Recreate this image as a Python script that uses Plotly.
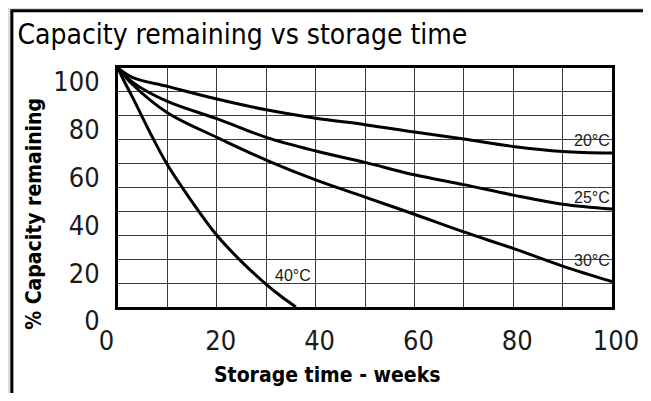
import plotly.graph_objects as go

# ---- data ----
weeks_20 = [0, 3, 10, 20, 30, 40, 50, 60, 70, 80, 90, 100]
cap_20 = [100, 96, 92.3, 87, 82.5, 79, 76.3, 73.2, 70.3, 67.2, 65.1, 64.4]

weeks_25 = [0, 3, 10, 20, 30, 40, 50, 60, 70, 80, 90, 100]
cap_25 = [100, 94, 86, 78.8, 71, 65.3, 60.5, 55.3, 51.2, 46.8, 43, 41]

weeks_30 = [0, 3, 10, 20, 30, 40, 50, 60, 70, 80, 90, 100]
cap_30 = [100, 93, 81.3, 71, 61.5, 53.2, 46, 38.8, 31.4, 24.5, 17.1, 10.6]

weeks_40 = [0, 1, 3, 6.6, 10, 15, 20, 25, 30, 33, 36]
cap_40 = [100, 95.5, 87.5, 72.5, 59.5, 44, 30, 19, 9.5, 4.5, 0]

series = [
    ("20°C", weeks_20, cap_20),
    ("25°C", weeks_25, cap_25),
    ("30°C", weeks_30, cap_30),
    ("40°C", weeks_40, cap_40),
]

# curve labels (data coords)
label_text = ["20°C", "25°C", "30°C", "40°C"]
label_x = [100, 100, 100, 35.4]
label_y = [69.5, 45.9, 19.3, 13.1]
label_anchor = ["right", "right", "right", "center"]

x_ticks = [0, 20, 40, 60, 80, 100]
x_ticktext = ["0\u00a0\u00a0\u00a0\u00a0", "20", "40", "60", "80", "100"]
y_ticks = [0, 20, 40, 60, 80, 100]

title_text = "Capacity remaining vs storage time"
x_title = "Storage time - weeks"
y_title = "% Capacity remaining"

# ---- layout geometry ----
# the page body has an 8px margin, so the figure is drawn 8px in from the window corner
OFF = 8
W, H = 651 - OFF, 401 - 2 * OFF
L, R, T, B = 110, 28, 60, 86
PW, PH = W - L - R, H - T - B


def ref_x(px):
    """window pixel -> paper x"""
    return (px - OFF - L) / PW


def ref_y(py):
    """window pixel -> paper y"""
    return (H - B - (py - OFF)) / PH


NARROW = "DejaVu Sans Condensed, Liberation Sans Narrow, Arial Narrow, sans-serif"

fig = go.Figure()
for name, xs, ys in series:
    fig.add_trace(go.Scatter(
        x=xs, y=ys, mode="lines", name=name,
        line=dict(color="black", width=3, shape="spline", smoothing=1.0),
        showlegend=False, cliponaxis=True,
    ))

annotations = []
for t, x, y, a in zip(label_text, label_x, label_y, label_anchor):
    annotations.append(dict(
        x=x, y=y, xref="x", yref="y", text=t, showarrow=False,
        xanchor=a, yanchor="middle",
        font=dict(family="Liberation Sans, Arial, sans-serif", size=16, color="#1a1a1a"),
    ))

annotations.append(dict(
    x=ref_x(331.7), y=ref_y(375), xref="paper", yref="paper",
    text="<b>" + x_title + "</b>", showarrow=False, xanchor="center", yanchor="middle",
    font=dict(family=NARROW, size=21, color="black"),
))
annotations.append(dict(
    x=ref_x(32), y=ref_y(214), xref="paper", yref="paper",
    text="<b>" + y_title + "</b>", showarrow=False, xanchor="center", yanchor="middle",
    textangle=-90,
    font=dict(family=NARROW, size=21, color="black"),
))

shapes = [dict(
    type="rect", xref="paper", yref="paper", layer="below",
    x0=ref_x(9.5), x1=ref_x(720),
    y0=ref_y(480), y1=ref_y(10.7),
    fillcolor="white", line=dict(color="black", width=3),
)]

grid = "#3c3c3c"
fig.update_layout(
    width=W, height=H,
    margin=dict(l=L, r=R, t=T, b=B),
    paper_bgcolor="#dcdcdc",
    plot_bgcolor="rgba(0,0,0,0)",
    title=dict(
        text=title_text, xref="container", yref="container",
        x=9.5 / W, xanchor="left", y=1 - 16 / H, yanchor="top",
        font=dict(family=NARROW, size=28, color="black"),
    ),
    annotations=annotations,
    shapes=shapes,
    xaxis=dict(
        range=[0, 100], tickvals=x_ticks, ticktext=x_ticktext,
        showgrid=True, gridcolor=grid, gridwidth=1,
        minor=dict(dtick=10, showgrid=True, gridcolor=grid, gridwidth=1),
        zeroline=False, showline=True, linecolor="black", linewidth=3, mirror=True,
        ticks="", ticklabelstandoff=8, ticklabelshift=4,
        tickfont=dict(family=NARROW, size=27, color="#1a1a1a"),
        fixedrange=True,
    ),
    yaxis=dict(
        range=[0, 100], tickvals=y_ticks, ticktext=[str(v) for v in y_ticks],
        showgrid=True, gridcolor=grid, gridwidth=1,
        minor=dict(dtick=10, showgrid=True, gridcolor=grid, gridwidth=1),
        zeroline=False, showline=True, linecolor="black", linewidth=3, mirror=True,
        ticks="", ticklabelstandoff=10, ticklabelshift=14,
        tickfont=dict(family=NARROW, size=27, color="#1a1a1a"),
        fixedrange=True,
    ),
)

fig.write_html("out.html")
